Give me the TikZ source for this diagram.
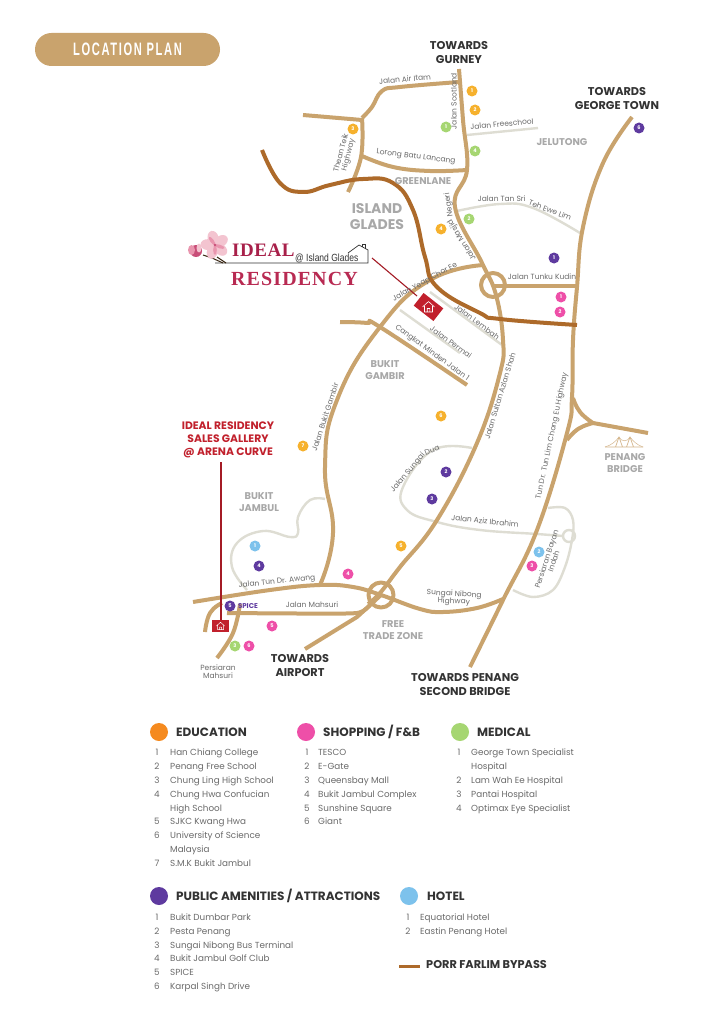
\documentclass[tikz,border=0pt]{standalone}
\usepackage{fontspec}
\setmainfont{Poppins}
\newfontfamily\pillfont[LetterSpace=9,FakeStretch=0.62]{Liberation Sans}
\newfontfamily\logofont[LetterSpace=3]{Liberation Serif}
\newfontfamily\logoresi[LetterSpace=5.5]{Liberation Serif}
\newfontfamily\logotwo[FakeStretch=0.82]{Liberation Sans}
\definecolor{tan}{HTML}{C9A36D}
\definecolor{bypass}{HTML}{AD6A2A}
\definecolor{greyroad}{HTML}{DEDDD3}
\definecolor{labgrey}{HTML}{6A6A6A}
\definecolor{areagrey}{HTML}{A8A8A8}
\definecolor{inkdark}{HTML}{333333}
\definecolor{redbox}{HTML}{C1202C}
\definecolor{orangeM}{HTML}{F6B12D}
\definecolor{orangeL}{HTML}{F58A1F}
\definecolor{pinkM}{HTML}{EE4FA8}
\definecolor{greenM}{HTML}{A6D672}
\definecolor{purpleM}{HTML}{5E3A9F}
\definecolor{blueM}{HTML}{7DC2EC}
\definecolor{petalA}{HTML}{F3C4D0}
\definecolor{petalB}{HTML}{E995AE}
\definecolor{budC}{HTML}{C84E78}
\definecolor{logoA}{HTML}{A8204A}
\definecolor{logoB}{HTML}{B82A52}
\newcommand{\labfont}{\fontsize{7.5}{8.5}\selectfont}
\tikzset{
  x=1pt,y=-1pt,
  road/.style={draw=tan,line width=4pt,line cap=butt,line join=round},
  byp/.style={draw=bypass,line width=4pt,line join=round},
  lane/.style={draw=greyroad,line width=2.4pt,line join=round},
  redline/.style={draw=redbox!85!black,line width=1.1pt},
  roadlab/.style={font=\labfont,text=labgrey,inner sep=0pt,align=center},
  area/.style={font=\fontsize{9.8}{12}\selectfont\bfseries,text=areagrey,inner sep=0pt,align=center},
  towards/.style={font=\fontsize{11.3}{14}\selectfont\bfseries,text=inkdark,inner sep=0pt,align=center},
  spot/.style={circle,fill=#1,text=white,minimum size=11pt,inner sep=0pt,font=\fontsize{5}{5}\selectfont\bfseries},
  legdot/.style={circle,fill=#1,minimum size=18pt,inner sep=0pt},
  leghead/.style={font=\fontsize{12}{13}\selectfont\bfseries,text=inkdark,inner sep=0pt,anchor=west},
  legnum/.style={font=\fontsize{8.8}{10}\selectfont,text=labgrey,inner sep=0pt,text height=6.5pt,text depth=2pt},
  legitem/.style={font=\fontsize{8.8}{10}\selectfont,text=labgrey,inner sep=0pt,anchor=west,text height=6.5pt,text depth=2pt},
}
\begin{document}
\begin{tikzpicture}
\useasboundingbox (0,0) rectangle (724,1024);
\fill[white] (0,0) rectangle (724,1024);
% title
\node[fill=tan,rounded corners=16.5pt,minimum width=185pt,minimum height=33pt,inner sep=0pt,text=white,font=\pillfont\fontsize{18}{18}\selectfont\bfseries] (title) at (127.5,49.5) {LOCATION PLAN};
% grey lanes
\draw[lane] (467,135) -- (538,128);
\draw[lane] plot[smooth,tension=.7] coordinates {(457,211) (500,204) (533,208) (580,233)};
\draw[lane] (430,292) -- (502,345);
\draw[lane] (400,310) -- (460,353);
\draw[lane] plot[smooth,tension=.7] coordinates {(325,499) (310,500) (298,517) (298,533) (290,537) (263,531) (237,543) (232,567) (247,590)};
\draw[lane] plot[smooth,tension=.7] coordinates {(472,448) (433,450) (403,487) (407,510) (437,522) (480,530) (537,534) (563,536)};
\draw[lane] plot[smooth,tension=.6] coordinates {(548,508) (565,508) (573,520) (572,540) (565,567) (553,590) (533,597) (513,590)};
\draw[lane] (569,536) circle (6);
% tan roads
\draw[road] plot[smooth,tension=.7] coordinates {(459,69) (463,120) (467,170) (455,207) (482,263) (496,295) (503,340) (500,373) (477,443) (437,520) (400,567) (380,593) (368,604)};
\draw[road] plot[smooth,tension=.7] coordinates {(459,82) (400,87) (382,91) (372,107) (362,118)};
\draw[road] (303,115) -- (362,120);
\draw[road] plot[smooth,tension=.7] coordinates {(362,118) (361,157) (348,192)};
\draw[road] plot[smooth,tension=.7] coordinates {(362,156) (393,167) (430,171) (467,170)};
\draw[road] (493,286) -- (577,286);
\draw[road] (493,285) circle (12);
\draw[road] plot[smooth,tension=.7] coordinates {(632,117) (603,163) (583,227) (577,287) (573,340) (572,397) (567,433) (537,530) (503,600) (470,667)};
\draw[road] plot[smooth,tension=.8] coordinates {(573,398) (580,412) (593,423)};
\draw[road] (593,423) -- (648,433);
\draw[road] plot[smooth,tension=.8] coordinates {(567,440) (578,429) (593,423)};
\draw[road] plot[smooth,tension=.8] coordinates {(320,585) (333,533) (325,467) (337,400) (380,327) (430,280) (484,265)};
\draw[road] plot[smooth,tension=.7] coordinates {(340,322) (367,323) (380,327) (467,385)};
\draw[road] plot[smooth,tension=.7] coordinates {(193,602) (270,590) (320,585) (353,587) (381,595) (420,609) (443,612) (477,608) (503,599)};
\draw[road] plot[smooth,tension=.4] coordinates {(227,613) (300,613.5) (357,613) (370,605)};
\draw[road] (305,649) -- (357,617) -- (381,595);
\draw[road] (381,595) circle (12.5);
\draw[road] plot[smooth,tension=.8] coordinates {(205,632) (210,613) (222,603)};
\draw[road] plot[smooth,tension=.7] coordinates {(217,658) (233,633) (240,604)};
% bypass
\draw[byp] plot[smooth,tension=.75] coordinates {(262,150) (280,183) (303,192) (330,185) (363,179) (393,183) (413,210) (425,257) (437,287) (480,313) (500,319) (577,325)};
% red markers
\draw[redline] (372,258) -- (417,296);
\draw[redline] (221,462) -- (221,620);
\begin{scope}[shift={(428.5,307)},rotate=-38]
  \fill[redbox] (-12.5,-8) rectangle (12.5,8);
  \draw[white,line width=.6pt,rotate=38,line join=round] (-6,0) -- (0,-5.5) -- (6,0) (-4,-1) -- (-4,5) -- (4,5) -- (4,-1) (-1.3,5) -- (-1.3,1.5) -- (1.3,1.5) -- (1.3,5);
\end{scope}
\begin{scope}[shift={(220.5,626)}]
  \fill[redbox] (-8.5,-6) rectangle (8.5,6);
  \draw[white,line width=.5pt,line join=round] (-4,0) -- (0,-3.8) -- (4,0) (-3,-.5) -- (-3,3.5) -- (3,3.5) -- (3,-.5) (-1,3.5) -- (-1,1) -- (1,1) -- (1,3.5);
\end{scope}
% Penang bridge icon
\draw[tan!80!white,line width=.7pt,line join=round] (605,447) -- (643,447) (615.5,447) -- (619,437) -- (622.5,447) (626.5,447) -- (630,437) -- (633.5,447);
\draw[tan!80!white,line width=.5pt] (605,447) .. controls (612,445) and (616,441) .. (619,437) .. controls (621,442) and (628,442) .. (630,437) .. controls (633,441) and (637,445) .. (643,447);
% road labels
\node[roadlab,rotate=5] (l1) at (405,79) {Jalan Air Itam};
\node[roadlab,rotate=90] (l2) at (454,101) {Jalan Scotland};
\node[roadlab,rotate=5] (l3) at (502,124) {Jalan Freeschool};
\node[roadlab,rotate=75] (l4) at (345,154) {Thean Teik\\[-1pt]Highway};
\node[roadlab,rotate=-7] (l5) at (416,157) {Lorong Batu Lancang};
\node[roadlab] (l20) at (501.7,199) {Jalan Tan Sri};
\node[roadlab,rotate=-21] (l21) at (550,210) {Teh Ewe Lim};
\node[roadlab,rotate=122] (l22) at (462,240) {Jalan Masjid};
\node[roadlab,rotate=98] (l23) at (449,205) {Negeri};
\node[roadlab,rotate=29] (l6) at (425,282) {Jalan Yeap Chor Ee};
\node[roadlab] (l7) at (542,277) {Jalan Tunku Kudin};
\node[roadlab,rotate=-36] (l8) at (477,322) {Jalan Lembah};
\node[roadlab,rotate=-36] (l9) at (451,342) {Jalan Permai};
\node[roadlab,rotate=-36] (l10) at (432,353) {Cangkat Minden Jalan 1};
\node[roadlab,rotate=72] (l11) at (325,417) {Jalan Bukit Gambir};
\node[roadlab,rotate=73] (l12) at (500,396) {Jalan Sultan Azlan Shah};
\node[roadlab,rotate=78] (l13) at (552,436) {Tun Dr. Tun Lim Chong Eu Highway};
\node[roadlab,rotate=50] (l24) at (408,473) {Jalan Sungai};
\node[roadlab,rotate=22] (l25) at (432,450) {Dua};
\node[roadlab,rotate=-6] (l14) at (485,521) {Jalan Aziz Ibrahim};
\node[roadlab,rotate=72] (l15) at (550,560) {Persiaran Bayan\\[-1pt]Indah};
\node[roadlab,rotate=-3] (l16) at (454,598) {Sungai Nibong\\[-1pt]Highway};
\node[roadlab,rotate=6] (l17) at (277,582) {Jalan Tun Dr. Awang};
\node[roadlab] (l18) at (312,605) {Jalan Mahsuri};
\node[roadlab] (l19) at (218,671.5) {Persiaran\\[-.5pt]Mahsuri};
\node[inner sep=0pt,font=\fontsize{7}{8}\selectfont\bfseries,text=purpleM] (spice) at (248,606) {SPICE};
% area labels
\node[area] (a1) at (423,181) {GREENLANE};
\node[font=\fontsize{14}{16}\selectfont\bfseries,text=areagrey,inner sep=0pt,align=center] (a2) at (377,217) {ISLAND\\GLADES};
\node[area] (a3) at (562,142) {JELUTONG};
\node[area] (a4) at (385,370.5) {BUKIT\\GAMBIR};
\node[area] (a5) at (259,502) {BUKIT\\JAMBUL};
\node[area] (a6) at (393,630) {FREE\\TRADE ZONE};
\node[area] (a7) at (625,463) {PENANG\\BRIDGE};
% destinations
\node[towards] (t1) at (459,53) {TOWARDS\\GURNEY};
\node[towards] (t2) at (617,99) {TOWARDS\\GEORGE TOWN};
\node[towards] (t3) at (300,666) {TOWARDS\\AIRPORT};
\node[towards] (t4) at (465,685) {TOWARDS PENANG\\SECOND BRIDGE};
\node[font=\fontsize{10.8}{13}\selectfont\bfseries,text=redbox,inner sep=0pt,align=center] (sales) at (228,440) {IDEAL RESIDENCY\\SALES GALLERY\\@ ARENA CURVE};
% spots
\foreach \n/\x/\y in {1/472/91,2/475/110,3/353/129,4/441/229,5/401/546,6/441/416,7/303/446}
  \node[spot=orangeM] (ed\n) at (\x,\y) {\n};
\foreach \n/\x/\y in {1/446/127,2/469/219,3/235/646,4/475/151}
  \node[spot=greenM] (me\n) at (\x,\y) {\n};
\foreach \n/\x/\y in {1/554/258,2/446/472,3/432/499,4/259/566,5/230/606,6/639/128}
  \node[spot=purpleM] (pu\n) at (\x,\y) {\n};
\foreach \n/\x/\y in {1/561/297,2/560/312,3/532/566,4/348/574,5/272/626,6/249/646}
  \node[spot=pinkM] (sh\n) at (\x,\y) {\n};
\foreach \n/\x/\y in {1/255/546,2/539/552}
  \node[spot=blueM] (ho\n) at (\x,\y) {\n};
% logo
\draw[inkdark,line width=.7pt] (215,263) -- (368,263) -- (368,250) -- (359,245) -- (348,253);
\draw[inkdark,line width=.5pt] (362,247) -- (362,244.5) -- (365,244.5) -- (365,248.5);
\draw[black!70!brown,line width=1pt] (203,255) -- (212,258) -- (223,263);
\draw[black!70!brown,line width=1pt] (217,257) -- (226,263);
\foreach \a in {0,72,144,216,288}
  \fill[petalA,rotate around={\a+15:(215,245)}] (215,238) ellipse (5.5 and 7.5);
\foreach \a in {36,180,252}
  \fill[petalB,rotate around={\a:(215,245)}] (215,240) ellipse (1.8 and 5);
\fill[budC] (215,245) circle (1.3);
\fill[budC] (196,251) ellipse (6 and 6);
\fill[petalB] (191.5,250) ellipse (3.5 and 5);
\fill[petalA] (199,248) ellipse (2.5 and 4.5);
\node[font=\logofont\fontsize{19}{19}\selectfont\bfseries,text=logoA,inner sep=0pt,anchor=base west] (lg1) at (232,256) {IDEAL};
\node[font=\logotwo\fontsize{10.4}{10}\selectfont,text=inkdark,inner sep=0pt,anchor=base west] (lg2) at (295,261) {@ Island Glades};
\node[font=\logoresi\fontsize{20}{20}\selectfont\bfseries,text=logoB,inner sep=0pt,anchor=base west] (lg3) at (231,285) {RESIDENCY};
% legend 1
\node[legdot=orangeL] (d1) at (159,732) {};
\node[leghead] (h1) at (176,732) {EDUCATION};
\node[legdot=pinkM] (d2) at (306,732) {};
\node[leghead] (h2) at (323,732) {SHOPPING / F\&B};
\node[legdot=greenM] (d3) at (460,732) {};
\node[leghead] (h3) at (477,732) {MEDICAL};
\foreach \n/\y/\t in {1/753.5/Han Chiang College,2/767/Penang Free School,3/781/Chung Ling High School,4/795/Chung Hwa Confucian,/809/High School,5/822/SJKC Kwang Hwa,6/836/University of Science,/850/Malaysia,7/864/S.M.K Bukit Jambul}{
  \node[legnum] at (157,\y) {\n};
  \node[legitem] at (170,\y) {\t};}
\foreach \n/\y/\t in {1/753.5/TESCO,2/767/E-Gate,3/781/Queensbay Mall,4/795/Bukit Jambul Complex,5/809/Sunshine Square,6/822/Giant}{
  \node[legnum] at (307,\y) {\n};
  \node[legitem] at (318,\y) {\t};}
\foreach \n/\y/\t in {1/753.5/George Town Specialist,/767/Hospital,2/781/Lam Wah Ee Hospital,3/795/Pantai Hospital,4/809/Optimax Eye Specialist}{
  \node[legnum] at (459,\y) {\n};
  \node[legitem] at (471,\y) {\t};}
% legend 2
\node[legdot=purpleM] (d4) at (159,896) {};
\node[leghead] (h4) at (176,896) {PUBLIC AMENITIES / ATTRACTIONS};
\node[legdot=blueM] (d5) at (409,896) {};
\node[leghead] (h5) at (427,896) {HOTEL};
\foreach \n/\y/\t in {1/918/Bukit Dumbar Park,2/932/Pesta Penang,3/946/Sungai Nibong Bus Terminal,4/959/Bukit Jambul Golf Club,5/973/SPICE,6/987/Karpal Singh Drive}{
  \node[legnum] at (157,\y) {\n};
  \node[legitem] at (170,\y) {\t};}
\foreach \n/\y/\t in {1/918/Equatorial Hotel,2/932/Eastin Penang Hotel}{
  \node[legnum] at (408,\y) {\n};
  \node[legitem] at (420,\y) {\t};}
\draw[bypass,line width=3pt] (399,966) -- (420,966);
\node[leghead,font=\fontsize{11.3}{13}\selectfont\bfseries] (h6) at (426,965) {PORR FARLIM BYPASS};
\end{tikzpicture}
\end{document}
